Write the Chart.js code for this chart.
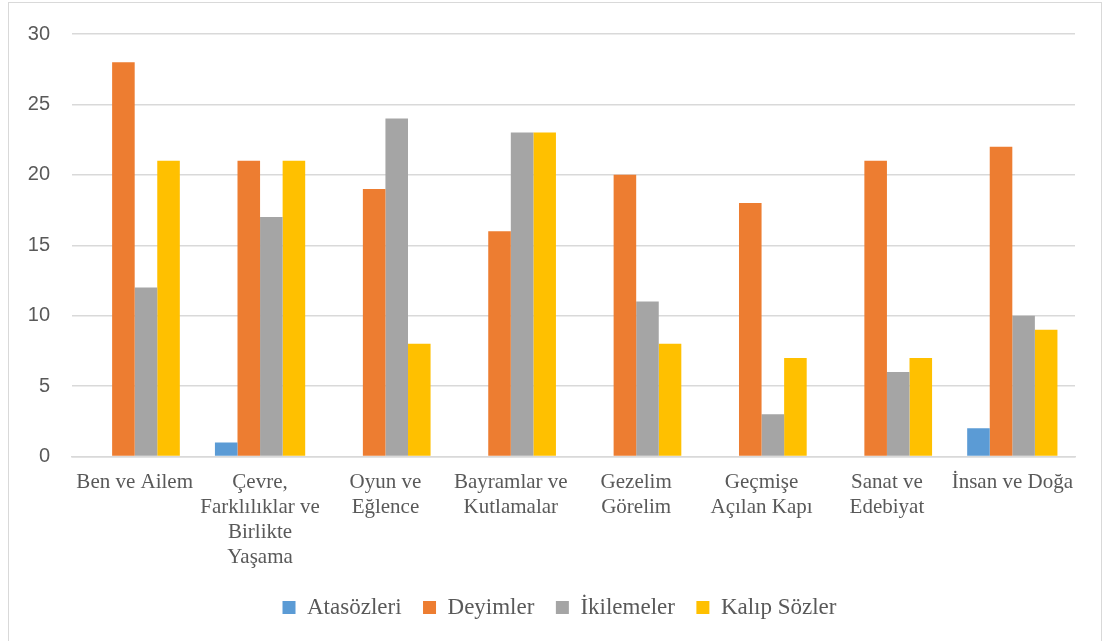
<!DOCTYPE html>
<html>
<head>
<meta charset="utf-8">
<script src="https://cdn.jsdelivr.net/npm/chart.js@4/dist/chart.umd.min.js"></script>
<style>
  html, body { margin: 0; padding: 0; background: #fff; }
  #wrap { position: relative; width: 1105px; height: 641px; overflow: hidden; }
  #frame { position: absolute; left: 8px; top: 2px; width: 1094px; height: 660px; border: 1.5px solid #d9d9d9; box-sizing: border-box; }
  #chart { position: absolute; left: 0; top: 0; }
</style>
</head>
<body>
<div id="wrap">
  <div id="frame"></div>
  <canvas id="chart" width="1105" height="641"></canvas>
</div>
<script>
// categories (multi-line labels as in the original)
let categories = [
    "Ben ve Ailem",
    ["Çevre,", "Farklılıklar ve", "Birlikte", "Yaşama"],
    ["Oyun ve", "Eğlence"],
    ["Bayramlar ve", "Kutlamalar"],
    ["Gezelim", "Görelim"],
    ["Geçmişe", "Açılan Kapı"],
    ["Sanat ve", "Edebiyat"],
    "İnsan ve Doğa"
];

let atasozleri = [0, 1, 0, 0, 0, 0, 0, 2];
let deyimler   = [28, 21, 19, 16, 20, 18, 21, 22];
let ikilemeler = [12, 17, 24, 23, 11, 3, 6, 10];
let kalipSozler = [21, 21, 8, 23, 8, 7, 7, 9];

let seriesNames = ["Atasözleri", "Deyimler", "İkilemeler", "Kalıp Sözler"];
let seriesColors = ["#5B9BD5", "#ED7D31", "#A5A5A5", "#FFC000"];

let yTicks = [0, 5, 10, 15, 20, 25, 30];

let textColor = "#595959";

let seriesData = [atasozleri, deyimler, ikilemeler, kalipSozler];
let datasets = seriesNames.map((name, i) => ({
    label: name,
    data: seriesData[i],
    backgroundColor: seriesColors[i],
    borderWidth: 0,
    barPercentage: 1,
    categoryPercentage: 0.72
}));

// push the legend a bit to the right, it is centred on the frame in the original
let legendShift = {
    id: "legendShift",
    afterLayout(chart) {
        chart.legend.left += 22;
        chart.legend.right += 22;
    }
};

let ctx = document.getElementById("chart").getContext("2d");
let chart = new Chart(ctx, {
    type: "bar",
    data: { labels: categories, datasets: datasets },
    plugins: [legendShift],
    options: {
        responsive: false,
        animation: false,
        layout: { padding: { top: 22, right: 30, bottom: 12, left: 0 } },
        plugins: {
            tooltip: { enabled: false },
            legend: {
                position: "bottom",
                labels: {
                    boxWidth: 13,
                    boxHeight: 13,
                    padding: 21.5,
                    color: textColor,
                    font: { family: "'Liberation Serif', 'Times New Roman', serif", size: 23 }
                }
            }
        },
        scales: {
            x: {
                grid: { display: false },
                border: { display: true, color: "#d9d9d9", width: 1.5 },
                ticks: {
                    color: textColor,
                    maxRotation: 0,
                    autoSkip: false,
                    padding: 5,
                    font: { family: "'Liberation Serif', 'Times New Roman', serif", size: 21, lineHeight: 1.2 }
                },
                afterFit: function (scale) { scale.height = 118; }
            },
            y: {
                min: 0,
                max: 30,
                afterBuildTicks: function (scale) {
                    scale.ticks = yTicks.map(v => ({ value: v }));
                },
                grid: { color: "#d9d9d9", lineWidth: 1.5, drawTicks: false },
                border: { display: false },
                ticks: {
                    color: textColor,
                    padding: 22,
                    font: { family: "'Liberation Sans', Arial, sans-serif", size: 20 }
                },
                afterFit: function (scale) { scale.width = 72; }
            }
        }
    }
});
</script>
</body>
</html>
